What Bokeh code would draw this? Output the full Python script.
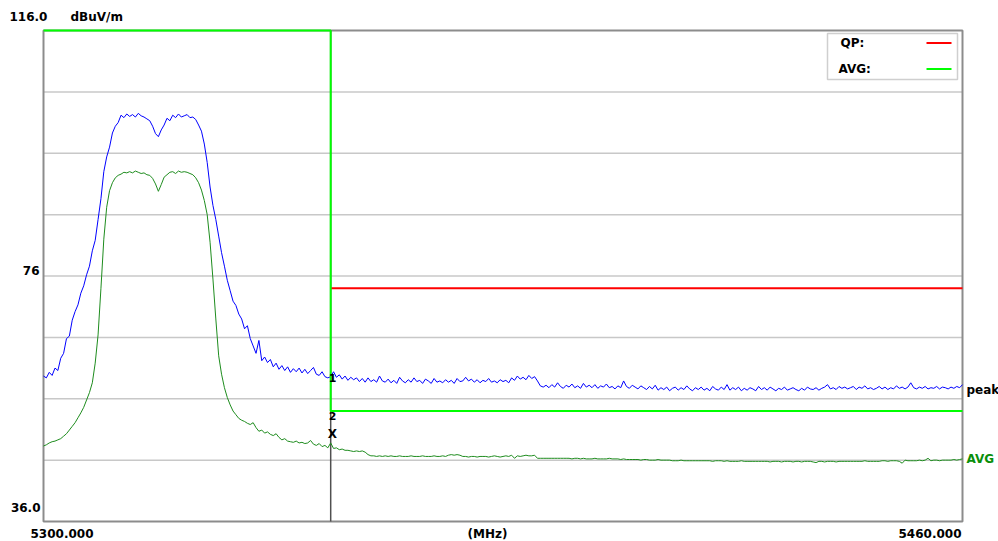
from bokeh.plotting import figure
from bokeh.models import Range1d, Label
from bokeh.embed import file_html
from bokeh.resources import INLINE

# ---------------- data ----------------
f_start, f_step = 5300.0, 0.5

peak_vals = [
    59.7, 59.4, 60.3, 59.8, 61.0, 60.6, 62.6, 63.4, 65.8, 66.2,
    68.8, 70.2, 71.3, 73.2, 74.4, 76.2, 77.6, 80.1, 81.8, 85.2,
    88.6, 93.0, 95.4, 97.0, 99.3, 100.4, 101.0, 102.2, 101.8, 102.4,
    102.0, 102.3, 101.9, 102.5, 102.1, 101.9, 101.6, 101.3, 100.4, 99.2,
    98.7, 99.8, 100.6, 101.7, 101.3, 102.2, 101.8, 102.4, 101.9, 102.1,
    102.3, 101.8, 101.9, 101.5, 100.6, 99.6, 97.5, 94.5, 90.5, 87.5,
    85.2, 82.5, 79.8, 77.6, 75.3, 73.6, 71.9, 71.2, 69.8, 69.0,
    67.4, 67.9, 65.8, 64.6, 63.4, 65.5, 62.2, 62.8, 61.9, 62.4,
    61.2, 61.8, 60.8, 61.4, 60.6, 61.2, 60.3, 60.9, 60.4, 61.0,
    60.2, 60.8, 60.1, 60.6, 61.1, 60.0, 59.8, 60.4, 59.6, 59.4,
    59.6, 60.4, 59.5, 59.9, 59.2, 59.7, 59.0, 59.5, 59.1, 59.4,
    58.8, 59.3, 58.7, 59.4, 58.8, 59.1, 58.7, 59.7, 58.9, 58.7,
    59.2, 58.6, 59.0, 58.5, 59.5, 58.9, 58.6, 59.1, 58.7, 59.4,
    58.8, 59.0, 58.5, 59.2, 58.9, 58.5, 59.3, 58.7, 58.9, 58.6,
    59.1, 58.7, 59.0, 58.5, 59.3, 58.8, 58.9, 59.5, 58.9, 59.2,
    58.7, 59.1, 58.6, 59.0, 58.8, 59.3, 58.7, 58.9, 58.6, 59.1,
    58.8, 59.0, 58.6, 59.4, 59.0, 59.7, 59.2, 59.5, 59.1, 59.8,
    59.3, 59.6, 58.9, 58.1, 57.9, 58.2, 57.8, 58.3, 57.9, 58.6,
    58.0, 57.7, 58.2, 57.9, 58.4, 57.8, 58.1, 57.7, 58.5, 57.9,
    58.2, 57.8, 58.3, 57.7, 58.1, 57.9, 58.4, 57.8, 58.0, 57.6,
    58.1, 57.8, 58.9, 58.0, 57.7, 58.2, 57.9, 57.6, 58.1, 57.8,
    57.5, 58.0, 57.6, 58.2, 57.4, 57.8, 57.5, 57.9, 57.3, 57.7,
    57.9, 57.4, 57.8, 57.5, 58.1, 57.6, 57.3, 57.8, 57.5, 57.9,
    57.4, 57.7, 57.3, 58.0, 57.6, 57.4, 57.9, 57.5, 58.3, 57.4,
    57.8, 57.5, 57.9, 57.3, 57.7, 57.4, 57.8, 57.6, 57.3, 58.0,
    57.5, 57.8, 57.4, 57.9, 57.6, 57.3, 57.7, 57.5, 57.9, 57.4,
    57.6, 57.8, 57.5, 57.3, 57.7, 57.4, 57.9, 57.6, 57.5, 57.8,
    57.4, 57.7, 57.9, 58.3, 57.6, 57.8, 57.5, 58.0, 57.7, 57.9,
    57.6, 57.8, 58.0, 57.5, 57.9, 57.7, 58.1, 57.6, 57.8, 57.5,
    57.7, 58.0, 57.6, 57.9, 57.5, 57.8, 57.6, 58.1, 57.7, 57.9,
    57.6, 57.9, 58.6, 57.8, 57.6, 57.9, 57.7, 58.0, 57.6, 57.8,
    57.7, 58.0, 57.6, 57.9, 57.8, 57.6, 57.9, 57.7, 58.0, 57.8,
    58.3,
]

avg_vals = [
    48.3, 48.5, 48.8, 49.0, 49.1, 49.3, 49.5, 49.9, 50.3, 50.9,
    51.5, 52.1, 52.9, 53.7, 54.6, 55.8, 57.0, 58.6, 61.8, 66.4,
    74.0, 82.0, 87.2, 89.9, 91.2, 92.0, 92.4, 92.6, 92.9, 92.8,
    93.0, 92.8, 93.1, 92.9, 92.7, 92.8, 92.5, 92.4, 91.9, 91.0,
    89.8, 90.9, 92.1, 92.5, 92.9, 93.0, 92.7, 93.1, 92.9, 93.0,
    92.9, 92.7, 92.5, 92.0, 91.2, 90.0, 88.3, 86.0, 81.5, 75.5,
    69.0, 63.0, 60.0, 57.8, 56.2, 55.0, 54.0, 53.4, 52.8, 52.5,
    52.3, 52.0, 51.8, 52.1, 51.3, 50.7, 50.9, 50.4, 50.6, 50.2,
    50.0, 50.3, 49.7, 49.3, 49.5, 49.1, 49.0, 48.9, 49.1, 48.8,
    48.9, 48.7, 48.8, 49.2, 48.6, 48.4, 48.7, 48.2, 48.4, 48.0,
    48.8, 47.9, 48.0, 47.7, 47.8, 47.6, 47.6, 47.5, 47.4, 47.5,
    47.4, 47.5, 47.3, 46.9, 46.7, 46.7, 46.6, 46.7, 46.6, 46.7,
    46.6, 46.7, 46.6, 46.6, 46.7, 46.6, 46.6, 46.6, 46.7, 46.6,
    46.6, 46.6, 46.7, 46.6, 46.6, 46.6, 46.7, 46.6, 46.6, 46.7,
    46.6, 46.8, 46.9, 46.8, 46.9, 46.8, 46.6, 46.6, 46.5, 46.6,
    46.6, 46.5, 46.6, 46.6, 46.6, 46.5, 46.6, 46.7, 46.6, 46.5,
    46.6, 46.7, 46.6, 46.8, 46.3, 46.7, 46.6, 46.7, 46.8, 46.7,
    46.7, 46.8, 46.3, 46.3, 46.3, 46.3, 46.3, 46.3, 46.3, 46.3,
    46.3, 46.3, 46.3, 46.3, 46.2, 46.3, 46.3, 46.2, 46.3, 46.2,
    46.2, 46.2, 46.3, 46.2, 46.2, 46.2, 46.2, 46.3, 46.2, 46.2,
    46.2, 46.1, 46.2, 46.1, 46.1, 46.1, 46.1, 46.1, 46.0, 46.1,
    46.1, 46.0, 46.0, 46.0, 46.1, 46.0, 46.0, 46.0, 46.0, 45.9,
    45.9, 45.9, 46.0, 45.9, 45.9, 45.9, 45.9, 45.9, 45.9, 45.9,
    45.9, 45.9, 45.9, 45.8, 45.9, 45.9, 45.9, 45.8, 45.9, 45.8,
    45.8, 45.8, 45.8, 45.9, 45.8, 45.8, 45.8, 45.8, 45.8, 45.8,
    45.8, 45.8, 45.8, 45.7, 45.8, 45.8, 45.8, 45.7, 45.8, 45.8,
    45.8, 45.7, 45.8, 45.8, 45.7, 45.8, 45.8, 45.8, 45.7, 45.6,
    45.8, 45.8, 45.7, 45.8, 45.8, 45.8, 45.7, 45.8, 45.8, 45.8,
    45.8, 45.8, 45.8, 45.8, 45.8, 45.8, 45.9, 45.8, 45.8, 45.8,
    45.8, 45.8, 45.9, 45.9, 45.8, 45.9, 45.9, 45.9, 45.8, 45.5,
    46.0, 45.9, 45.9, 45.9, 45.9, 46.0, 45.9, 46.0, 46.3, 45.9,
    46.0, 46.0, 45.9, 46.0, 46.0, 46.0, 46.0, 46.1, 46.0, 46.1,
    46.2,
]

freqs = [f_start + f_step * i for i in range(len(peak_vals))]

# limit lines
avg_limit_f = [5300, 5350, 5350, 5460]
avg_limit_v = [116, 116, 54, 54]
qp_limit_f = [5350, 5460]
qp_limit_v = [74, 74]

# marker
marker_freq = 5350.0

# axes
x_min, x_max = 5300, 5460
y_min, y_max = 36, 116
grid_ticks = [46, 56, 66, 76, 86, 96, 106]

# ---------------- layout helpers ----------------
W, H = 998, 541
ML, MR, MT, MB = 43, 36, 30, 20
FW, FH = W - ML - MR, H - MT - MB


def xd(px):
    return x_min + (px - ML) * (x_max - x_min) / FW


def yd(py):
    return y_max - (py - MT) * (y_max - y_min) / FH


# the frame covers the whole canvas; the plot box is drawn inside it
p = figure(width=W, height=H, x_range=Range1d(xd(0), xd(W)), y_range=Range1d(yd(H), yd(0)),
           x_axis_type=None, y_axis_type=None, output_backend="svg", toolbar_location=None,
           min_border=0)
p.background_fill_color = "white"
p.border_fill_color = "white"
p.outline_line_color = None
p.xgrid.visible = False
p.ygrid.visible = False

# grid lines
p.segment(x0=[x_min] * len(grid_ticks), y0=grid_ticks, x1=[x_max] * len(grid_ticks), y1=grid_ticks,
          line_color="#c8c8c8", line_width=1.5)

# plot box
p.quad(left=[x_min], right=[x_max], bottom=[y_min], top=[y_max], fill_color=None,
       line_color="#8c8c8c", line_width=2)

# marker line
p.segment(x0=[marker_freq], y0=[y_min], x1=[marker_freq], y1=[y_max], line_color="#505050", line_width=1.5)

# traces
p.line(freqs, avg_vals, line_color="#1e8c1e", line_width=1)
p.line(freqs, peak_vals, line_color="#0000ff", line_width=1)

# limits
p.line(qp_limit_f, qp_limit_v, line_color="#ff0000", line_width=2)
p.line(avg_limit_f, avg_limit_v, line_color="#00ff00", line_width=2)

FONT = "DejaVu Sans"


def lab(text, px, py, align="left", color="black", size="12px"):
    p.add_layout(Label(x=xd(px), y=yd(py), text=text, text_font=FONT, text_font_size=size,
                       text_font_style="bold", text_color=color, text_align=align,
                       text_baseline="middle"))


lab("116.0", 9, 16)
lab("dBuV/m", 70, 16)
lab("76", 39, 270, align="right")
lab("36.0", 40, 507, align="right")
lab("5300.000", 30, 533)
lab("(MHz)", 487, 533, align="center")
lab("5460.000", 961, 533, align="right")
lab("peak", 966, 389)
lab("AVG", 966, 458, color="#0a8f0a")

# marker labels
lab("1", 332, 377, align="center", size="11px")
lab("2", 332, 415, align="center", size="11px")
lab("X", 332, 433, align="center", size="12px")

# legend box
p.quad(left=[xd(827)], right=[xd(957)], top=[yd(33)], bottom=[yd(79)],
       fill_color="white", line_color="#cfcfcf", line_width=1.5)
lab("QP:", 840, 42)
lab("AVG:", 838, 68)
p.segment(x0=[xd(926)], y0=[yd(42.5)], x1=[xd(951)], y1=[yd(42.5)], line_color="#ff0000", line_width=2)
p.segment(x0=[xd(926)], y0=[yd(68.5)], x1=[xd(951)], y1=[yd(68.5)], line_color="#00ff00", line_width=2)

open("out.html", "w").write(file_html(p, INLINE))
